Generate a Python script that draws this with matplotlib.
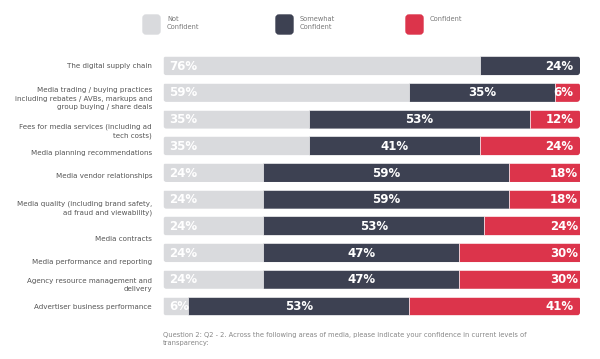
import matplotlib.pyplot as plt
from matplotlib.patches import FancyBboxPatch
import numpy as np

categories = [
    "The digital supply chain",
    "Media trading / buying practices\nincluding rebates / AVBs, markups and\ngroup buying / share deals",
    "Fees for media services (including ad\ntech costs)",
    "Media planning recommendations",
    "Media vendor relationships",
    "Media quality (including brand safety,\nad fraud and viewability)",
    "Media contracts",
    "Media performance and reporting",
    "Agency resource management and\ndelivery",
    "Advertiser business performance",
]
not_confident = [76, 59, 35, 35, 24, 24, 24, 24, 24, 6]
somewhat = [24, 35, 53, 41, 59, 59, 53, 47, 47, 53]
confident = [0, 6, 12, 24, 18, 18, 24, 30, 30, 41]
series_names = ["Not\nConfident", "Somewhat\nConfident", "Confident"]

# label vertical nudges (in rows) to mimic the original layout
label_dy = [0.0, 0.23, 0.45, 0.27, 0.12, 0.34, 0.48, 0.36, 0.21, 0.03]

COL = ['#d9dadd', '#3d4152', '#dc344b']
TXT = '#555555'

W, H = 600, 359
fig = plt.figure(figsize=(W / 100, H / 100), dpi=100)
fig.patch.set_facecolor('white')

# axes placed so that bars span x 163..580 px, rows 65.7..306 px
x0, x1 = 163.3, 580.0
top, bot = 52.35, 319.35
ax = fig.add_axes([x0 / W, 1 - bot / H, (x1 - x0) / W, (bot - top) / H])
ax.set_xlim(0, 100)
ax.set_ylim(9.5, -0.5)
ax.axis('off')

BAR_H = 0.71
y = np.arange(len(categories))
data = [not_confident, somewhat, confident]
left = np.zeros(len(categories))
containers = []
for k, vals in enumerate(data):
    vals = np.array(vals, dtype=float)
    bc = ax.barh(y, vals, left=left, height=BAR_H, color=COL[k],
                 edgecolor='white', linewidth=0.4)
    containers.append(bc)
    for i, v in enumerate(vals):
        if v <= 0:
            continue
        last = (left[i] + v) >= 99.5
        if k == 0 and not last:
            xt, ha = left[i] + 1.5, 'left'
        elif last:
            xt, ha = left[i] + v - 1.5, 'right'
        else:
            xt, ha = left[i] + v / 2, 'center'
        ax.text(xt, i + 0.02, f"{int(v)}%", ha=ha, va='center', color='white',
                fontsize=8.5, fontweight='bold', family='DejaVu Sans')
    left += vals

# rounded ends: clip each row's segments to a rounded box
px_x = (x1 - x0) / 100.0
px_y = (bot - top) / 10.0
for i in range(len(categories)):
    clip = FancyBboxPatch((0, i - BAR_H / 2), left[i], BAR_H,
                          boxstyle="round,pad=0,rounding_size=0.75",
                          mutation_aspect=px_x / px_y,
                          transform=ax.transData, fc='none', ec='none')
    for bc in containers:
        bc[i].set_clip_path(clip)

for i, lab in enumerate(categories):
    ax.text(-2.7, i + label_dy[i], lab, ha='right', va='center',
            fontsize=5.1, color=TXT, linespacing=1.5, family='DejaVu Sans')

# legend
leg_x = [143, 276, 406]
for k, name in enumerate(series_names):
    fig.patches.append(FancyBboxPatch((leg_x[k], H - 34), 17, 19,
                                      boxstyle="round,pad=0,rounding_size=3",
                                      transform=None, color=COL[k], figure=fig))
    fig.text((leg_x[k] + 24) / W, 1 - 16 / H, name, ha='left', va='top',
             fontsize=4.8, color='#777777', linespacing=1.45)

fig.text(163 / W, 1 - 332 / H,
         "Question 2: Q2 - 2. Across the following areas of media, please indicate your confidence in current levels of\ntransparency:",
         ha='left', va='top', fontsize=4.9, color='#888888', linespacing=1.3)

fig.savefig('out.png', dpi=100)
